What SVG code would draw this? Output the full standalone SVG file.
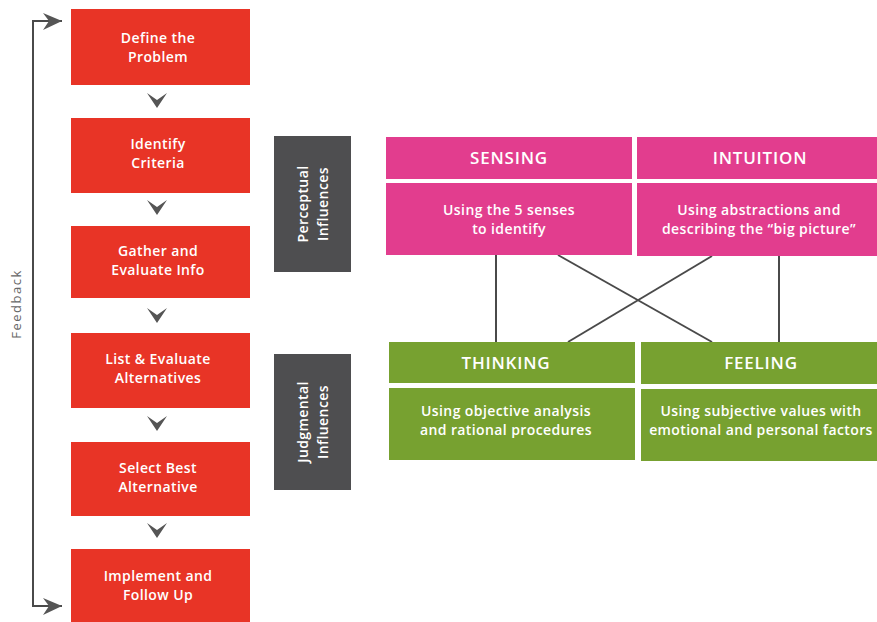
<svg xmlns="http://www.w3.org/2000/svg" width="877" height="622" viewBox="0 0 877 622">
<defs>
<style>
.red{fill:#e83426}
.pink{fill:#e23d8e}
.green{fill:#77a130}
.gray{fill:#4e4e50}
.t{font-family:"Open Sans",Lato,"Liberation Sans",sans-serif;fill:#fff;text-anchor:middle;font-weight:600}
.s{font-size:14px;letter-spacing:0.4px}
.h{font-size:17px;letter-spacing:0.8px}
.ln{stroke:#4a4a4a;stroke-width:2;fill:none}
.chev{fill:#555}
</style>
</defs>
<rect width="877" height="622" fill="#fff"/>
<g id="feedback">
<path class="ln" d="M62,21 H33 V606 H62" stroke-width="2.5"/>
<polygon class="chev" points="43,13 62,21 43,30 49,21"/>
<polygon class="chev" points="43,598 62,606 43,615 49,606"/>
<text transform="translate(21,304) rotate(-90)" x="0" y="0" style="font-family:'Open Sans','Liberation Sans',sans-serif;font-size:13px;letter-spacing:1.5px;fill:#666;text-anchor:middle">Feedback</text>
</g>
<g id="step1"><rect class="red" x="71" y="9" width="179" height="76"/><text class="t s" x="158" y="43">Define the</text><text class="t s" x="158" y="62">Problem</text></g>
<g id="step2"><rect class="red" x="71" y="118" width="179" height="75"/><text class="t s" x="158" y="149">Identify</text><text class="t s" x="158" y="168">Criteria</text></g>
<g id="step3"><rect class="red" x="71" y="226" width="179" height="72"/><text class="t s" x="158" y="256">Gather and</text><text class="t s" x="158" y="275">Evaluate Info</text></g>
<g id="step4"><rect class="red" x="71" y="333" width="179" height="75"/><text class="t s" x="158" y="364">List &amp; Evaluate</text><text class="t s" x="158" y="383">Alternatives</text></g>
<g id="step5"><rect class="red" x="71" y="442" width="179" height="74"/><text class="t s" x="158" y="473">Select Best</text><text class="t s" x="158" y="492">Alternative</text></g>
<g id="step6"><rect class="red" x="71" y="549" width="179" height="73"/><text class="t s" x="158" y="581">Implement and</text><text class="t s" x="158" y="600">Follow Up</text></g>
<g id="connectors">
<polygon class="chev" points="147,93 157,100 167,93 157,108"/>
<polygon class="chev" points="147,200 157,207 167,200 157,215"/>
<polygon class="chev" points="147,308 157,315 167,308 157,323"/>
<polygon class="chev" points="147,416 157,423 167,416 157,431"/>
<polygon class="chev" points="147,523 157,530 167,523 157,538"/>
<line class="ln" x1="496" y1="255" x2="496" y2="342"/>
<line class="ln" x1="558" y1="255" x2="712" y2="342"/>
<line class="ln" x1="712" y1="256" x2="568" y2="342"/>
<line class="ln" x1="779" y1="256" x2="779" y2="342"/>
</g>
<g id="perceptual"><rect class="gray" x="274" y="136" width="77" height="136"/>
<g transform="translate(313,204) rotate(-90)"><text class="t s" x="0" y="-5">Perceptual</text><text class="t s" x="0" y="15">Influences</text></g></g>
<g id="judgmental"><rect class="gray" x="274" y="354" width="77" height="136"/>
<g transform="translate(313,422) rotate(-90)"><text class="t s" x="0" y="-5">Judgmental</text><text class="t s" x="0" y="15">Influences</text></g></g>
<g id="sensing">
<rect class="pink" x="386" y="137" width="246" height="42"/><text class="t h" x="509" y="164">SENSING</text>
<rect class="pink" x="386" y="183" width="246" height="72"/><text class="t s" x="509" y="215">Using the 5 senses</text><text class="t s" x="509" y="234">to identify</text>
</g>
<g id="intuition">
<rect class="pink" x="637" y="137" width="240" height="42"/><text class="t h" x="760" y="164">INTUITION</text>
<rect class="pink" x="637" y="183" width="240" height="73"/><text class="t s" x="759" y="215">Using abstractions and</text><text class="t s" x="759" y="234">describing the “big picture”</text>
</g>
<g id="thinking">
<rect class="green" x="389" y="342" width="246" height="41"/><text class="t h" x="506" y="369">THINKING</text>
<rect class="green" x="389" y="388" width="246" height="72"/><text class="t s" x="506" y="416">Using objective analysis</text><text class="t s" x="506" y="435">and rational procedures</text>
</g>
<g id="feeling">
<rect class="green" x="641" y="342" width="236" height="42"/><text class="t h" x="761" y="369">FEELING</text>
<rect class="green" x="641" y="389" width="236" height="72"/><text class="t s" x="761" y="416">Using subjective values with</text><text class="t s" x="761" y="435">emotional and personal factors</text>
</g>
</svg>
